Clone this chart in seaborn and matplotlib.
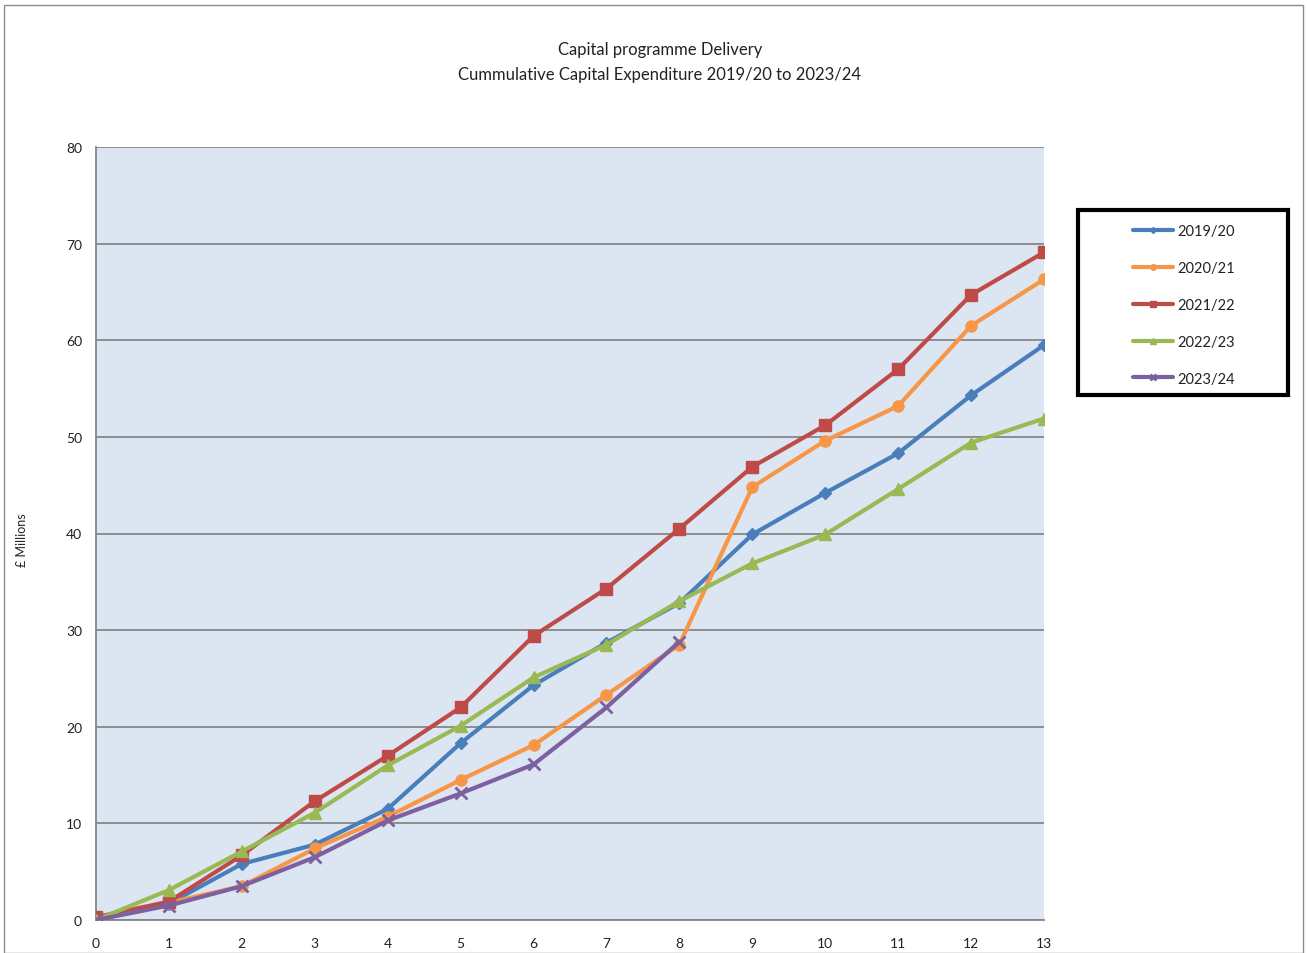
import matplotlib
matplotlib.use("Agg")
import matplotlib.pyplot as plt
import seaborn as sns
import pandas as pd
import numpy as np

periods = list(range(14))
series_names = ["2019/20", "2020/21", "2021/22", "2022/23", "2023/24"]
v2019 = [0, 1.7, 5.8, 7.8, 11.5, 18.3, 24.3, 28.7, 32.8, 39.9, 44.2, 48.3, 54.3, 59.5]
v2020 = [0, 1.8, 3.5, 7.4, 10.7, 14.5, 18.1, 23.3, 28.5, 44.8, 49.6, 53.2, 61.5, 66.3]
v2021 = [0.3, 1.9, 6.7, 12.3, 17.0, 22.0, 29.4, 34.3, 40.5, 46.9, 51.2, 57.0, 64.7, 69.1]
v2022 = [0, 3.1, 7.1, 11.1, 16.0, 20.1, 25.1, 28.5, 33.0, 36.9, 39.9, 44.6, 49.4, 51.9]
v2023 = [0, 1.5, 3.5, 6.5, 10.3, 13.1, 16.1, 22.0, 28.8]
all_values = [v2019, v2020, v2021, v2022, v2023]

colors = ["#4A7EBB", "#F79646", "#BE4B48", "#98B954", "#7D60A0"]
markers = ["D", "o", "s", "^", "x"]
msizes = [6, 8, 9, 9, 8]

rows = []
for name, vals in zip(series_names, all_values):
    for p, v in zip(periods, vals):
        rows.append({"Period": p, "Value": v, "Year": name})
df = pd.DataFrame(rows)

sns.set_theme(style="white")
plt.rcParams["font.family"] = ["Lato", "DejaVu Sans"]

fig = plt.figure(figsize=(13.07, 9.54), dpi=100)
ax = fig.add_axes([96/1307, 1-921/954, (1044-96)/1307, (921-148)/954])
ax.set_facecolor("#DCE6F2")

for name, c, m, ms in zip(series_names, colors, markers, msizes):
    sub = df[df["Year"] == name]
    sns.lineplot(data=sub, x="Period", y="Value", ax=ax, color=c, linewidth=3,
                 marker=m, markersize=ms, markeredgecolor=c, markeredgewidth=2 if m == "x" else 1,
                 label=name, legend=False, zorder=3)

ax.set_xlim(0, 13)
ax.set_ylim(0, 80)
ax.set_xticks(range(0, 14))
ax.set_yticks(range(0, 81, 10))
ax.yaxis.grid(True, color="#868686", linewidth=1.3)
ax.xaxis.grid(False)
ax.set_axisbelow(True)
for s in ["top", "right"]:
    ax.spines[s].set_visible(False)
for s in ["left", "bottom"]:
    ax.spines[s].set_color("#868686")
    ax.spines[s].set_linewidth(1.3)
ax.tick_params(axis="both", which="both", direction="out", length=5, width=1,
               color="#868686", labelsize=10, labelcolor="#222222")
ax.tick_params(axis="x", pad=7)
ax.tick_params(axis="y", pad=5)
ax.set_xlabel("")
ax.set_ylabel("")

fig.text(22/1307, 1-540/954, "£ Millions", rotation=90, ha="center", va="center",
         fontsize=9, color="#222222")
fig.text(660/1307, 1-50/954, "Capital programme Delivery", ha="center", va="center",
         fontsize=12, color="#222222")
fig.text(660/1307, 1-75/954, "Cummulative Capital Expenditure 2019/20 to 2023/24",
         ha="center", va="center", fontsize=12, color="#222222")

handles, labels = ax.get_legend_handles_labels()
leg = fig.legend(handles, labels, loc="upper left",
                 bbox_to_anchor=(1133/1307, 1-225/954), bbox_transform=fig.transFigure,
                 frameon=False, fontsize=10.5, labelspacing=1.57, handlelength=2.75,
                 borderpad=0, handletextpad=0.3, borderaxespad=0, markerscale=0.5)
for t in leg.get_texts():
    t.set_color("#222222")

legbox = plt.Rectangle((1078/1307, 1-396/954), 210/1307, 185/954, transform=fig.transFigure,
                       fill=True, facecolor="white", edgecolor="black", linewidth=3, zorder=0)
fig.patches.append(legbox)

border = plt.Rectangle((4/1307, 0), 1 - 8/1307, 1-6/954, transform=fig.transFigure,
                       fill=False, edgecolor="#8c8c8c", linewidth=1)
fig.patches.append(border)

fig.savefig("out.png", dpi=100, facecolor="white")
